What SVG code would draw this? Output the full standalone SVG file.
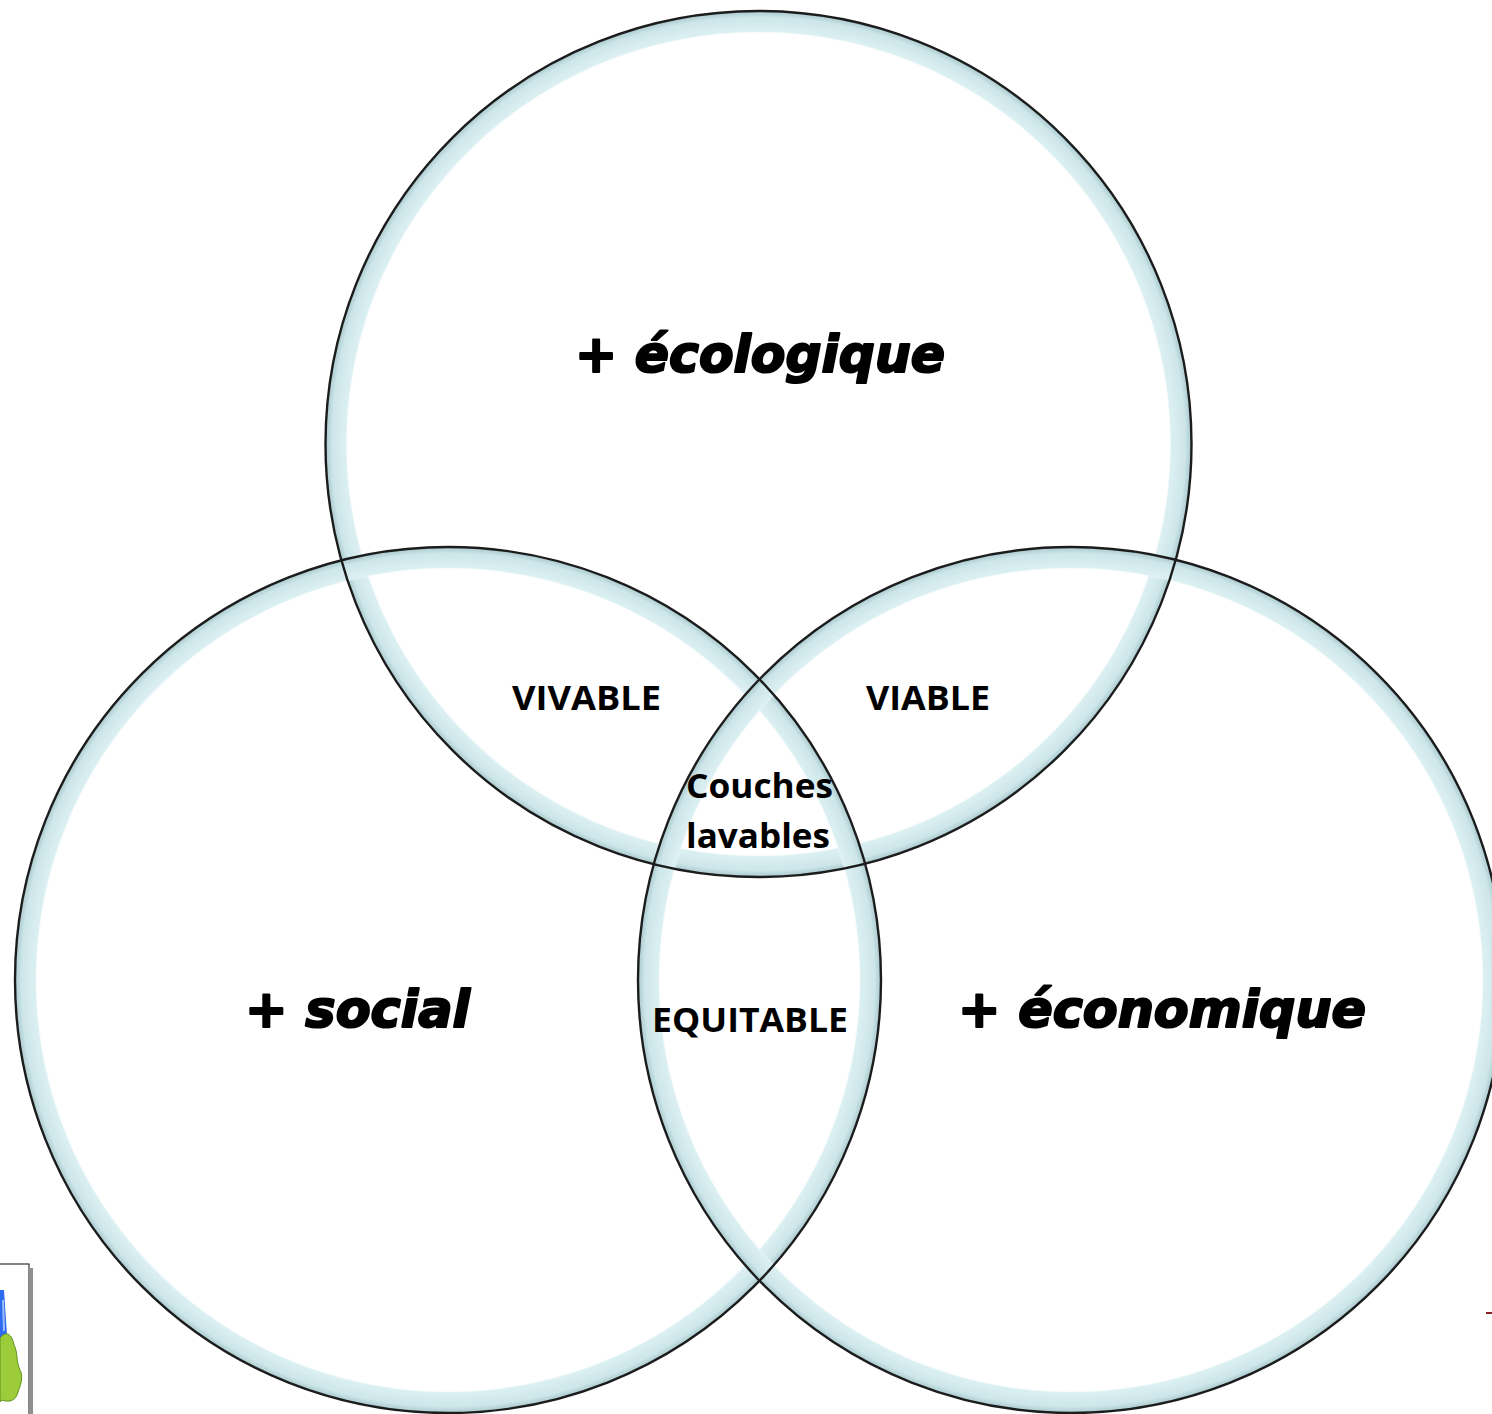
<svg xmlns="http://www.w3.org/2000/svg" width="1492" height="1414" viewBox="0 0 1492 1414">
<style>
.band{fill:url(#ring)}
.edge{fill:none;stroke:#1c1c1c;stroke-width:2.4}
.big{font-family:"DejaVu Sans","Liberation Sans",sans-serif;font-weight:bold;font-style:italic;font-size:52px;fill:#000;stroke:#000;stroke-width:2.2;stroke-linejoin:round}
.lab{font-family:"Open Sans","Liberation Sans",sans-serif;font-weight:bold;font-size:34px;fill:#000}
</style>
<defs>
<radialGradient id="ring" cx="0.5" cy="0.5" r="0.5">
<stop offset="0" stop-color="#ffffff" stop-opacity="0"/>
<stop offset="0.948" stop-color="#ffffff" stop-opacity="0"/>
<stop offset="0.953" stop-color="#dcf0f2" stop-opacity="1"/>
<stop offset="0.985" stop-color="#cde6e9" stop-opacity="1"/>
<stop offset="1" stop-color="#a9c9cd" stop-opacity="1"/>
</radialGradient>
</defs>
<rect width="1492" height="1414" fill="#ffffff"/>
<g id="fragment-left">
<rect x="-2" y="1264" width="31" height="152" fill="#ffffff" stroke="#333" stroke-width="1.2"/>
<rect x="29" y="1268" width="4" height="146" fill="#8f8f8f"/>
<path d="M0,1290 L4,1290 L7,1335 L0,1340 Z" fill="#2d6cf0"/>
<path d="M2,1300 L4,1300 L5,1330 L3,1332 Z" fill="#9bbcf7"/>
<path d="M0,1338 C6,1330 12,1334 14,1345 C18,1352 16,1362 20,1370 C24,1378 20,1386 18,1392 C16,1400 10,1403 2,1400 L0,1402 Z" fill="#9ccc3a" stroke="#5f8f1a" stroke-width="1"/>
</g>
<g id="fragment-right">
<line x1="1486" y1="1313" x2="1492" y2="1313" stroke="#8a1f2a" stroke-width="2"/>
</g>
<g id="node-ecologique">
<circle class="band" cx="758.5" cy="444" r="433"/>
</g>
<g id="node-social">
<circle class="band" cx="448" cy="980" r="433"/>
</g>
<g id="node-economique">
<circle class="band" cx="1071" cy="980" r="433"/>
</g>
<g id="outlines">
<circle class="edge" cx="758.5" cy="444" r="433"/>
<circle class="edge" cx="448" cy="980" r="433"/>
<circle class="edge" cx="1071" cy="980" r="433"/>
</g>
<g id="labels">
<text class="big" x="575" y="372" textLength="370" lengthAdjust="spacingAndGlyphs">+ écologique</text>
<text class="big" x="245" y="1027" textLength="225" lengthAdjust="spacingAndGlyphs">+ social</text>
<text class="big" x="958" y="1027" textLength="408" lengthAdjust="spacingAndGlyphs">+ économique</text>
</g>
<g id="node-vivable"><text class="lab" x="512" y="710" textLength="149" lengthAdjust="spacingAndGlyphs">VIVABLE</text></g>
<g id="node-viable"><text class="lab" x="866" y="710" textLength="124" lengthAdjust="spacingAndGlyphs">VIABLE</text></g>
<g id="node-equitable"><text class="lab" x="652" y="1032" textLength="196" lengthAdjust="spacingAndGlyphs">EQUITABLE</text></g>
<g id="node-couches">
<text class="lab" x="686" y="798" textLength="147" lengthAdjust="spacingAndGlyphs">Couches</text>
<text class="lab" x="686" y="848" textLength="144" lengthAdjust="spacingAndGlyphs">lavables</text>
</g>
</svg>
